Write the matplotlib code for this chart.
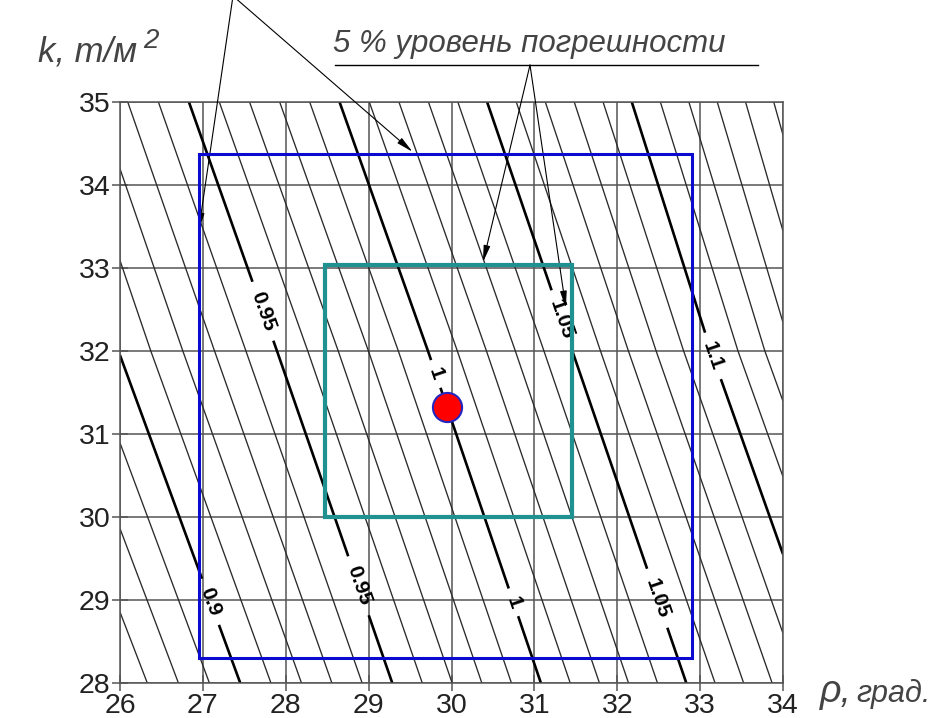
import numpy as np
import matplotlib
matplotlib.use('Agg')
import matplotlib.pyplot as plt
from matplotlib import font_manager
from matplotlib.patches import Rectangle
from matplotlib.lines import Line2D

# bold contour positions: rho where each level crosses k
k_rows = [28, 32, 35]
levels_read = [0.9, 0.95, 1.0, 1.05, 1.1]
rho_k28 = [27.45, 29.29, 31.07, 32.84, 34.55]
rho_k32 = [26.0, 27.85, 29.74, 31.47, 33.12]
rho_k35 = [24.98, 26.82, 28.65, 30.44, 32.17]

thin_levels = np.round(np.arange(0.86, 1.17, 0.01), 2)
bold_levels = [0.9, 0.95, 1.0, 1.05, 1.1]

# label spots on bold lines
label_pos = [(27.5, 32.4), (28.96, 29.2), (29.74, 31.7), (30.83, 29.0),
             (31.4, 32.4), (32.42, 29.0), (27.15, 29.0), (33.18, 31.95)]

blue_box = (26.95, 28.3, 32.9, 34.37)
teal_box = (28.47, 30.0, 31.45, 33.04)
point = (29.94, 31.33)

x_ticks = list(range(26, 35))
y_ticks = list(range(28, 36))

names = {f.name for f in font_manager.fontManager.ttflist}
def pick(*fams):
    for f in fams:
        if f in names:
            return f
    return 'DejaVu Sans'

tick_font = pick('Liberation Sans', 'Arial')
tech_font = pick('Liberation Sans Narrow', 'DejaVu Sans Condensed', 'Liberation Sans')

# field built from the read contour positions
rho = np.linspace(26, 34, 300)
kk = np.linspace(28, 35, 300)
table = np.array([rho_k28, rho_k32, rho_k35])
F = np.zeros((len(kk), len(rho)))
for i, k in enumerate(kk):
    pos = [np.interp(k, k_rows, table[:, j]) for j in range(len(levels_read))]
    c = np.polyfit(pos, levels_read, 2)
    F[i] = np.polyval(c, rho)
R, K = np.meshgrid(rho, kk)

fig = plt.figure(figsize=(9.38, 7.18), dpi=100)
ax = fig.add_axes([120/938, 1-683/718, 663/938, 581/718])

ax.contour(R, K, F, levels=[l for l in thin_levels if l not in bold_levels],
           colors='#2a2a2a', linewidths=0.95)
cs = ax.contour(R, K, F, levels=bold_levels, colors='black', linewidths=1.9)
lbl = ax.clabel(cs, manual=label_pos, fmt=lambda v: f'{v:g}', fontsize=15,
                inline=True, inline_spacing=8)
for t in lbl:
    t.set_fontfamily(tick_font)
    t.set_fontweight('bold')

ax.add_patch(Rectangle((blue_box[0], blue_box[1]), blue_box[2]-blue_box[0],
                       blue_box[3]-blue_box[1], fill=False, ec='#0a0ad0', lw=2.2, zorder=5))
ax.add_patch(Rectangle((teal_box[0], teal_box[1]), teal_box[2]-teal_box[0],
                       teal_box[3]-teal_box[1], fill=False, ec='#1f9191', lw=3, zorder=5))
ax.plot(*point, 'o', ms=21, mfc='#ff0000', mec='#2525c0', mew=1.5, zorder=6)

ax.set_xlim(26, 34)
ax.set_ylim(28, 35)
ax.set_xticks(x_ticks)
ax.set_yticks(y_ticks)
ax.grid(True, color='#555555', lw=1.1)
ax.set_axisbelow(True)
for s in ax.spines.values():
    s.set_color('#555555')
    s.set_linewidth(1.1)
ax.tick_params(direction='inout', length=12, width=1.1, color='#555555',
               labelsize=20.5, labelcolor='#222222', pad=1)
for t in ax.get_xticklabels() + ax.get_yticklabels():
    t.set_fontfamily(tick_font)

arrow = dict(arrowstyle='-|>,head_length=1.0,head_width=0.2', color='black',
             lw=0.8, shrinkA=0, shrinkB=0)
for tgt in [(30.38, 33.07), (31.38, 32.52)]:
    ax.annotate('', xy=tgt, xytext=(530, 653), textcoords='figure pixels',
                arrowprops=arrow, annotation_clip=False)
for tgt in [(26.95, 33.46), (29.53, 34.40)]:
    ax.annotate('', xy=tgt, xytext=(233, 722), textcoords='figure pixels',
                arrowprops=arrow, annotation_clip=False)

txt = dict(style='italic', family=tech_font, color='#444444', va='baseline')
fig.add_artist(Line2D([335/938, 758/938], [653/718, 653/718], color='black', lw=1))
fig.text(333/938, 1-52/718, '5 % уровень погрешности', fontsize=22.5, **txt)
fig.text(38/938, 1-62/718, 'k, т/м', fontsize=25, **txt)
fig.text(143/938, 1-48/718, '2', fontsize=20, **txt)
fig.text(820/938, 1-702/718, 'ρ,', fontsize=27, **txt)
fig.text(856/938, 1-702/718, 'град.', fontsize=22, **txt)

fig.savefig('out.png', dpi=100)
